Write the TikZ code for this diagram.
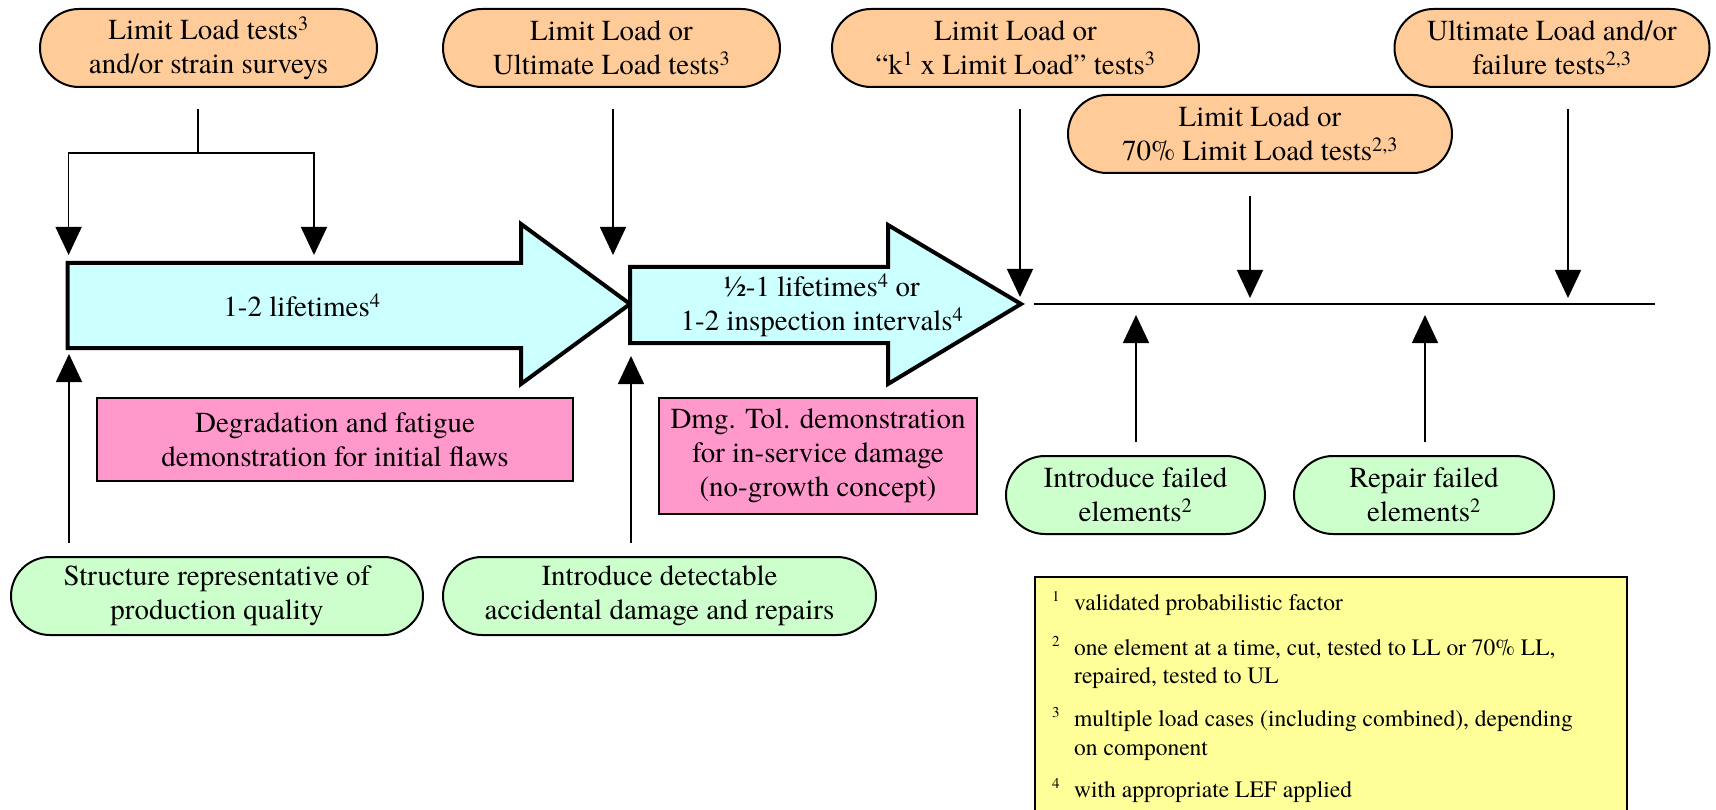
\documentclass[tikz,border=0pt]{standalone}
\usepackage{fontspec}
\setmainfont{texgyretermes}[Extension=.otf, UprightFont=*-regular, BoldFont=*-bold, ItalicFont=*-italic, BoldItalicFont=*-bolditalic]
\usetikzlibrary{arrows.meta}
\definecolor{orangeF}{HTML}{FFCC99}
\definecolor{cyanF}{HTML}{CCFFFF}
\definecolor{pinkF}{HTML}{FF99CC}
\definecolor{greenF}{HTML}{CCFFCC}
\definecolor{yellowF}{HTML}{FFFF99}
\begin{document}
\begin{tikzpicture}[x=1pt,y=-1pt,
  mainfont/.style={font=\fontsize{29}{34}\selectfont},
  notefont/.style={font=\fontsize{23.5}{28}\selectfont},
  ovalbox/.style={draw, line width=2pt, rounded corners=39pt, minimum height=78pt,
    inner sep=0pt, align=center, mainfont},
  ovalO/.style={ovalbox, fill=orangeF},
  ovalG/.style={ovalbox, fill=greenF},
  pinkbox/.style={draw, line width=2pt, fill=pinkF, inner sep=0pt, align=center, mainfont},
  blockarrow/.style={draw, line width=4pt, fill=cyanF, line join=miter},
  conn/.style={line width=1.5pt},
  tip/.style={conn, -{Triangle[width=26pt,length=28pt]}},
  notetext/.style={notefont, anchor=base west, inner sep=0pt},
  notenum/.style={font=\fontsize{15}{18}\selectfont, anchor=base west, inner sep=0pt}]
\useasboundingbox (0,0) rectangle (1716,810);

% top ovals
\node[ovalO, minimum width=337pt] (o1) at (208.5,48) {Limit Load tests\textsuperscript{3}\\and/or strain surveys};
\node[ovalO, minimum width=337pt] (o2) at (611.5,48) {Limit Load or\\Ultimate Load tests\textsuperscript{3}};
\node[ovalO, minimum width=367pt] (o3) at (1015.5,48) {Limit Load or\\“k\textsuperscript{1} x Limit Load” tests\textsuperscript{3}};
\node[ovalO, minimum width=315pt] (o4) at (1552,48) {Ultimate Load and/or\\failure tests\textsuperscript{2,3}};
\node[ovalO, minimum width=384pt] (o5) at (1260,134) {Limit Load or\\70\% Limit Load tests\textsuperscript{2,3}};

% block arrows
\draw[blockarrow] (67.5,263) -- (521,263) -- (521,224) -- (630,304) -- (521,384) -- (521,348) -- (67.5,348) -- cycle;
\node[mainfont] (a1txt) at (302,305) {1-2 lifetimes\textsuperscript{4}};
\draw[blockarrow] (630,267) -- (888,267) -- (888,225) -- (1021,304) -- (888,384) -- (888,343) -- (630,343) -- cycle;
\node[mainfont, align=center] (a2txt) at (822,305) {½-1 lifetimes\textsuperscript{4} or\\1-2 inspection intervals\textsuperscript{4}};

% pink boxes
\node[pinkbox, minimum width=476pt, minimum height=83pt] (p1) at (335,439.5) {Degradation and fatigue\\demonstration for initial flaws};
\node[pinkbox, minimum width=318pt, minimum height=116pt] (p2) at (818,456) {Dmg. Tol. demonstration\\for in-service damage\\(no-growth concept)};

% green ovals
\node[ovalG, minimum width=412pt] (g1) at (217,596) {Structure representative of\\production quality};
\node[ovalG, minimum width=433pt] (g2) at (659.5,596) {Introduce detectable\\accidental damage and repairs};
\node[ovalG, minimum width=259pt] (g3) at (1135.5,495) {Introduce failed\\elements\textsuperscript{2}};
\node[ovalG, minimum width=260pt] (g4) at (1424,495) {Repair failed\\elements\textsuperscript{2}};

% connector end points
\coordinate (s1) at (198,109); \coordinate (j1) at (198,153);
\coordinate (t1a) at (68.6,255); \coordinate (t1b) at (314,255);
\coordinate (s2) at (613,109); \coordinate (t2) at (613,255);
\coordinate (s3) at (1020,109); \coordinate (t3) at (1020,297);
\coordinate (s5) at (1250,196); \coordinate (t5) at (1250,298);
\coordinate (s4) at (1568,109); \coordinate (t4) at (1568,298);
\coordinate (h1) at (1034,304); \coordinate (h2) at (1655,304);
\coordinate (u1s) at (1136,442); \coordinate (u1t) at (1136,315);
\coordinate (u2s) at (1425,442); \coordinate (u2t) at (1425,315);
\coordinate (l1s) at (69,543); \coordinate (l1t) at (69,354);
\coordinate (l2s) at (631,543); \coordinate (l2t) at (631,356);

\draw[conn] (s1) -- (j1);
\draw[tip] (j1) -| (t1a);
\draw[tip] (j1) -| (t1b);
\draw[tip] (s2) -- (t2);
\draw[tip] (s3) -- (t3);
\draw[tip] (s5) -- (t5);
\draw[tip] (s4) -- (t4);
\draw[conn] (h1) -- (h2);
\draw[tip] (u1s) -- (u1t);
\draw[tip] (u2s) -- (u2t);
\draw[tip] (l1s) -- (l1t);
\draw[tip] (l2s) -- (l2t);

% notes box
\node[draw, line width=2pt, fill=yellowF, minimum width=592pt, minimum height=244pt, anchor=north west, inner sep=0pt] (notes) at (1034,576) {};
\node[notenum] (n1) at (1052,601) {1};
\node[notetext] (n1t) at (1074,610) {validated probabilistic factor};
\node[notenum] (n2) at (1052,646) {2};
\node[notetext] (n2t) at (1074,655) {one element at a time, cut, tested to LL or 70\% LL,};
\node[notetext] (n2u) at (1074,683) {repaired, tested to UL};
\node[notenum] (n3) at (1052,717) {3};
\node[notetext] (n3t) at (1074,726) {multiple load cases (including combined), depending};
\node[notetext] (n3u) at (1074,755) {on component};
\node[notenum] (n4) at (1052,788) {4};
\node[notetext] (n4t) at (1074,797) {with appropriate LEF applied};
\end{tikzpicture}
\end{document}
